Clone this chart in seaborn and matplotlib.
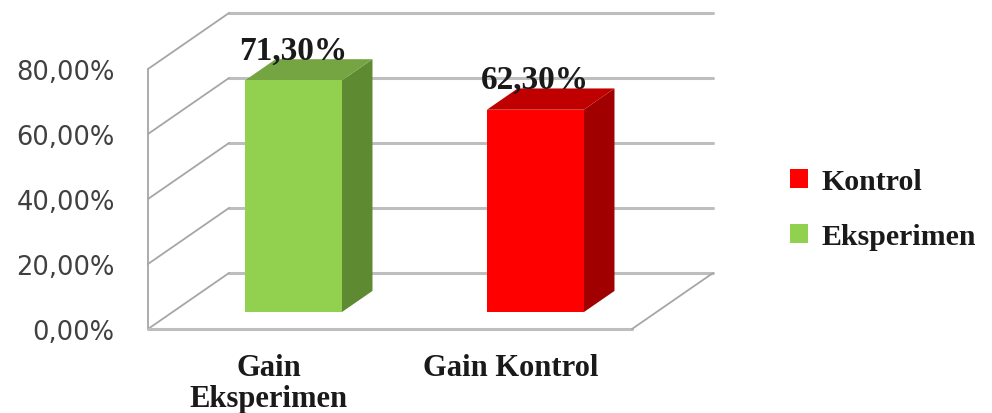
import matplotlib
matplotlib.use("Agg")
import matplotlib.pyplot as plt
import matplotlib.transforms as mtransforms
from matplotlib.patches import Polygon, Patch
from matplotlib.lines import Line2D
import numpy as np
import pandas as pd
import seaborn as sns

# ---- data ----
categories = ["Gain\nEksperimen", "Gain Kontrol"]
values = [71.3, 62.3]
value_labels = ["71,30%", "62,30%"]
legend_names = ["Eksperimen", "Kontrol"]
front_colors = ["#92D050", "#FF0000"]
side_colors = ["#5E8A32", "#A00000"]
top_colors = ["#74A542", "#C00000"]
yticks = [0, 20, 40, 60, 80]
ytick_labels = ["0,00%", "20,00%", "40,00%", "60,00%", "80,00%"]

sns.set_theme(style="white")
plt.rcParams["font.family"] = ["DejaVu Sans"]

DPI = 100
fig = plt.figure(figsize=(9.92, 4.14), dpi=DPI)
ax = fig.add_axes([148 / 992, 84 / 414, 484 / 992, 260 / 414])

df = pd.DataFrame({"cat": categories, "val": values})
sns.barplot(data=df, x="cat", y="val", hue="cat", palette=front_colors,
            width=0.4, legend=False, ax=ax, saturation=1, edgecolor="none",
            linewidth=0)
ax.set_xlim(-0.5, 1.5)
ax.set_ylim(0, 80)
for s in ax.spines.values():
    s.set_visible(False)
ax.set_xlabel("")
ax.set_ylabel("")
ax.set_yticks(yticks)
ax.set_yticklabels(ytick_labels, fontsize=18.5, color="#404040")
ax.tick_params(axis="y", length=0, pad=24)
ax.tick_params(axis="x", length=0, pad=17)
for t in ax.get_xticklabels():
    t.set_fontfamily(["Liberation Serif"])
    t.set_fontweight("bold")
    t.set_fontsize(22)
    t.set_color("#1a1a1a")
    t.set_linespacing(1.12)
ax.patch.set_alpha(0)

# 3D geometry in pixels
D = np.array([81.0, 56.0])         # full depth of the box
bar_front = 0.30                   # depth fraction of bar front face
bar_depth = 0.38                   # depth fraction of bar thickness
ident = mtransforms.IdentityTransform()

fig.canvas.draw()
T = ax.transData

grid_col = "#BEBEBE"
edge_col = "#A6A6A6"

# back wall gridlines + left wall diagonals
for v in yticks:
    pf = T.transform((-0.5, v))
    pb = pf + D
    pr = T.transform((1.5, v)) + D
    ax.add_line(Line2D([pb[0], pr[0]], [pb[1], pr[1]], transform=ident,
                       color=grid_col, lw=2.2, clip_on=False, zorder=0.5))
    ax.add_line(Line2D([pf[0], pb[0]], [pf[1], pb[1]], transform=ident,
                       color=edge_col, lw=1.3, clip_on=False, zorder=0.6))

# front left vertical, floor front edge, floor right diagonal
p00 = T.transform((-0.5, 0))
p0t = T.transform((-0.5, 80))
p10 = T.transform((1.5, 0))
for a, b, c, lw in [(p00, p0t, edge_col, 1.3), (p00, p10, grid_col, 2.2),
                    (p10, p10 + D, edge_col, 1.3)]:
    ax.add_line(Line2D([a[0], b[0]], [a[1], b[1]], transform=ident,
                       color=c, lw=lw, clip_on=False, zorder=0.6))

# 3D bars
off = D * bar_front
thick = D * bar_depth
for i, patch in enumerate(ax.patches[:len(values)]):
    x0 = patch.get_x()
    w = patch.get_width()
    h = patch.get_height()
    bl = T.transform((x0, 0)) + off
    br = T.transform((x0 + w, 0)) + off
    tl = T.transform((x0, h)) + off
    tr = T.transform((x0 + w, h)) + off
    patch.set_visible(False)
    front = Polygon([bl, br, tr, tl], closed=True, transform=ident,
                    facecolor=front_colors[i], edgecolor="none", zorder=3,
                    clip_on=False)
    side = Polygon([br, br + thick, tr + thick, tr], closed=True, transform=ident,
                   facecolor=side_colors[i], edgecolor="none", zorder=3,
                   clip_on=False)
    top = Polygon([tl, tr, tr + thick, tl + thick], closed=True, transform=ident,
                  facecolor=top_colors[i], edgecolor="none", zorder=3,
                  clip_on=False)
    for p in (side, top, front):
        ax.add_patch(p)
    cx = (tl[0] + tr[0]) / 2
    ax.text(cx, tl[1] + 30, value_labels[i], transform=ident, ha="center",
            va="center", fontsize=24, fontweight="bold",
            family=["Liberation Serif"], color="#1a1a1a", zorder=5)

# legend (Kontrol on top)
handles = [Patch(facecolor=front_colors[i], edgecolor="none", label=legend_names[i])
           for i in (1, 0)]
leg = fig.legend(handles=handles, loc="center left",
                 bbox_to_anchor=(763 / 992, 1 - 210 / 414), frameon=False,
                 prop={"family": ["Liberation Serif"], "weight": "bold", "size": 21.5},
                 handlelength=0.6, handleheight=0.6, handletextpad=0.45,
                 labelspacing=0.95)
for t in leg.get_texts():
    t.set_color("#1a1a1a")

fig.savefig("out.png", dpi=DPI)
